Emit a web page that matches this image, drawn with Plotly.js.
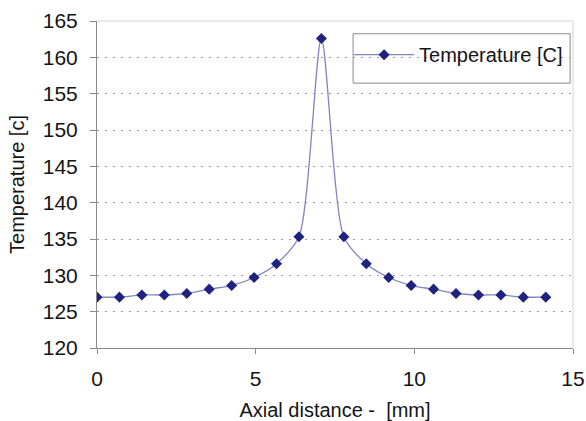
<!DOCTYPE html>
<html>
<head>
<meta charset="utf-8">
<script src="https://cdn.plot.ly/plotly-3.0.1.min.js"></script>
<style>html,body{margin:0;padding:0;background:#fff;}#chart{width:586px;height:421px;}</style>
</head>
<body>
<div id="chart"></div>
<script>
const axialDistance = [0, 0.707, 1.414, 2.121, 2.828, 3.536, 4.243, 4.95, 5.657, 6.364, 7.071, 7.778, 8.485, 9.192, 9.9, 10.607, 11.314, 12.021, 12.728, 13.435, 14.142];
const temperature = [127.0, 127.0, 127.3, 127.3, 127.5, 128.1, 128.6, 129.7, 131.6, 135.3, 162.6, 135.3, 131.6, 129.7, 128.6, 128.1, 127.5, 127.3, 127.3, 127.0, 127.0];
const seriesName = 'Temperature [C]';
const xTitle = 'Axial distance -  [mm]';
const yTitle = 'Temperature [c]';
const xTicks = [0, 5, 10, 15];
const yTicks = [120, 125, 130, 135, 140, 145, 150, 155, 160, 165];

const fam = 'Liberation Sans, Arial, sans-serif';
const txt = '#141414';

Plotly.newPlot('chart', [{
  x: axialDistance,
  y: temperature,
  type: 'scatter',
  mode: 'lines+markers',
  name: seriesName,
  line: {color: '#8084c0', width: 1.3, shape: 'spline', smoothing: 0.7},
  marker: {symbol: 'diamond', size: 8.5, color: '#1e2380', line: {width: 0}}
}], {
  width: 586, height: 421,
  margin: {l: 96.5, r: 13, t: 20.7, b: 73.3},
  paper_bgcolor: '#fff', plot_bgcolor: '#fff',
  font: {family: fam, color: txt, size: 20},
  showlegend: true,
  legend: {
    x: 0.5296, y: 0.897, xanchor: 'left', yanchor: 'middle',
    bgcolor: 'rgba(0,0,0,0)', borderwidth: 0,
    font: {family: fam, size: 20, color: txt},
    itemwidth: 60
  },
  shapes: [
    {type: 'line', xref: 'paper', yref: 'paper', x0: 0, x1: 1, y0: 1, y1: 1, line: {color: '#d4d4d4', width: 1}},
    {type: 'line', xref: 'paper', yref: 'paper', x0: 1, x1: 1, y0: 0, y1: 1, line: {color: '#d4d4d4', width: 1}},
    {type: 'rect', xref: 'paper', yref: 'paper', x0: 0.538, x1: 0.994, y0: 0.810, y1: 0.961,
     line: {color: '#8a8a8a', width: 1}, fillcolor: '#fff', layer: 'below'}
  ],
  xaxis: {
    range: [0, 15], tickvals: xTicks, ticktext: xTicks.map(String),
    showgrid: false, zeroline: false,
    showline: true, linecolor: '#8a8a8a', linewidth: 1,
    ticks: 'outside', ticklen: 5, tickcolor: '#8a8a8a',
    ticklabelstandoff: 7,
    tickfont: {family: fam, size: 21, color: txt},
    title: {text: xTitle, font: {family: fam, size: 20, color: txt}, standoff: 16}
  },
  yaxis: {
    range: [120, 165], tickvals: yTicks, ticktext: yTicks.map(String),
    showgrid: true, gridcolor: '#9a9a9a', griddash: '2px,6px', gridwidth: 1,
    zeroline: false,
    showline: true, linecolor: '#8a8a8a', linewidth: 1,
    ticks: 'outside', ticklen: 6, tickcolor: '#8a8a8a',
    ticklabelstandoff: 8,
    tickfont: {family: fam, size: 21, color: txt},
    title: {text: yTitle, font: {family: fam, size: 20, color: txt}, standoff: 12}
  }
}, {displayModeBar: false, staticPlot: true});
</script>
</body>
</html>
